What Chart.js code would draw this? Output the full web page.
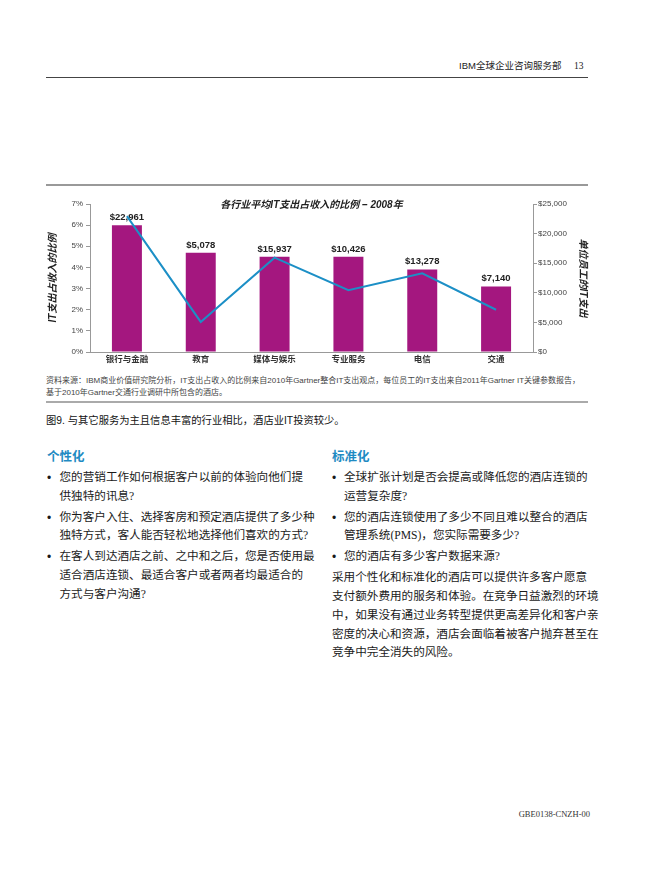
<!DOCTYPE html>
<html><head><meta charset="utf-8">
<script src="https://cdn.jsdelivr.net/npm/chart.js@4.4.0/dist/chart.umd.min.js"></script>
<style>
html,body{margin:0;padding:0;background:#fff;}
body{width:650px;height:882px;position:relative;overflow:hidden;font-family:"Liberation Sans","Noto Sans CJK SC",sans-serif;}
.abs{position:absolute;white-space:nowrap;}
.body{font-family:"Liberation Serif","Noto Sans CJK SC",serif;font-size:11.6px;color:#1a1a1a;line-height:18px;height:18px;}
.head{font-family:"Liberation Serif","Noto Sans CJK SC",serif;font-size:12.5px;font-weight:bold;color:#1f8bc3;line-height:18px;}
.bul{font-size:12px;color:#1a1a1a;line-height:18px;}
</style></head><body>
<div class="abs" style="left:459px;top:58px;font-size:9.5px;color:#222;line-height:16px;">IBM全球企业咨询服务部</div>
<div class="abs" style="left:574px;top:58px;font-size:9.5px;color:#222;line-height:16px;font-family:'Liberation Serif',serif;">13</div>
<div class="abs" style="left:46px;top:77px;width:542px;height:1px;background:#444;"></div>

<div class="abs" style="left:46px;top:184px;width:542px;height:2px;background:#999;"></div>
<div class="abs" style="left:0;top:190px;width:650px;height:185px;"><canvas id="c"></canvas></div>

<div class="abs" style="left:46px;top:375px;font-size:8px;color:#444;line-height:12px;">资料来源：IBM商业价值研究院分析，IT支出占收入的比例来自2010年Gartner整合IT支出观点，每位员工的IT支出来自2011年Gartner IT关键参数报告，<br>基于2010年Gartner交通行业调研中所包含的酒店。</div>
<div class="abs" style="left:46px;top:401px;width:542px;height:2px;background:#aaa;"></div>
<div class="abs" style="left:46px;top:413px;font-size:10.3px;color:#111;line-height:16px;">图9. 与其它服务为主且信息丰富的行业相比，酒店业IT投资较少。</div>

<div class="abs head" style="left:47px;top:448px;">个性化</div>
<div class="abs bul" style="left:47px;top:469px;">•</div>
<div class="abs body" style="left:59.5px;top:469px;">您的营销工作如何根据客户以前的体验向他们提</div>
<div class="abs body" style="left:59.5px;top:487.7px;">供独特的讯息?</div>
<div class="abs bul" style="left:47px;top:508.7px;">•</div>
<div class="abs body" style="left:59.5px;top:508.7px;">你为客户入住、选择客房和预定酒店提供了多少种</div>
<div class="abs body" style="left:59.5px;top:527.4px;">独特方式，客人能否轻松地选择他们喜欢的方式?</div>
<div class="abs bul" style="left:47px;top:548.4px;">•</div>
<div class="abs body" style="left:59.5px;top:548.4px;">在客人到达酒店之前、之中和之后，您是否使用最</div>
<div class="abs body" style="left:59.5px;top:567.1px;">适合酒店连锁、最适合客户或者两者均最适合的</div>
<div class="abs body" style="left:59.5px;top:585.8px;">方式与客户沟通?</div>

<div class="abs head" style="left:332px;top:448px;">标准化</div>
<div class="abs bul" style="left:332px;top:469px;">•</div>
<div class="abs body" style="left:344px;top:469px;">全球扩张计划是否会提高或降低您的酒店连锁的</div>
<div class="abs body" style="left:344px;top:487.7px;">运营复杂度?</div>
<div class="abs bul" style="left:332px;top:508.7px;">•</div>
<div class="abs body" style="left:344px;top:508.7px;">您的酒店连锁使用了多少不同且难以整合的酒店</div>
<div class="abs body" style="left:344px;top:527.4px;">管理系统(PMS)，您实际需要多少?</div>
<div class="abs bul" style="left:332px;top:548.4px;">•</div>
<div class="abs body" style="left:344px;top:548.4px;">您的酒店有多少客户数据来源?</div>
<div class="abs body" style="left:332px;top:569.4px;">采用个性化和标准化的酒店可以提供许多客户愿意</div>
<div class="abs body" style="left:332px;top:588.1px;">支付额外费用的服务和体验。在竞争日益激烈的环境</div>
<div class="abs body" style="left:332px;top:606.8px;">中，如果没有通过业务转型提供更高差异化和客户亲</div>
<div class="abs body" style="left:332px;top:625.5px;">密度的决心和资源，酒店会面临着被客户抛弃甚至在</div>
<div class="abs body" style="left:332px;top:644.2px;">竞争中完全消失的风险。</div>

<div class="abs" style="right:60px;top:808px;font-size:8.5px;color:#333;line-height:12px;font-family:'Liberation Serif',serif;">GBE0138-CNZH-00</div>

<script>
const categories = ['银行与金融','教育','媒体与娱乐','专业服务','电信','交通'];
const itShareOfRevenue = [6.0, 4.7, 4.5, 4.5, 3.9, 3.1];
const itSpendPerEmployee = [22961, 5078, 15937, 10426, 13278, 7140];
const leftTicks = [0,1,2,3,4,5,6,7];
const rightTicks = [0,5000,10000,15000,20000,25000];
const chartTitle = '各行业平均IT支出占收入的比例 – 2008年';

const fmt = v => '$' + v.toLocaleString('en-US');

const overlay = {
  id:'overlay',
  beforeDatasetsDraw(chart){
    const ctx = chart.ctx;
    const meta = chart.getDatasetMeta(1);
    ctx.save();
    ctx.font = 'bold 9.5px "Liberation Sans","Noto Sans CJK SC"';
    ctx.fillStyle = '#222';
    ctx.textAlign = 'center';
    ctx.textBaseline = 'bottom';
    meta.data.forEach((bar,i)=>{
      ctx.fillText(fmt(itSpendPerEmployee[i]), bar.x, bar.y - 3);
    });
    ctx.restore();
  },
  afterDraw(chart){
    const ctx = chart.ctx, a = chart.chartArea;
    ctx.save();
    ctx.font = 'italic bold 10px "Liberation Sans","Noto Sans CJK SC"';
    ctx.fillStyle = '#222';
    ctx.textAlign = 'center';
    ctx.textBaseline = 'middle';
    ctx.fillText(chartTitle, (a.left + a.right)/2, a.top + 1);
    ctx.restore();
  }
};

new Chart(document.getElementById('c'), {
  data:{
    labels: categories,
    datasets:[
      {type:'line', data: itSpendPerEmployee, yAxisID:'y1', borderColor:'#1c8fc6', borderWidth:2, pointRadius:0, tension:0, fill:false, order:0},
      {type:'bar', data: itShareOfRevenue, yAxisID:'y', backgroundColor:'#a4177f', barPercentage:0.406, categoryPercentage:1, order:1}
    ]
  },
  options:{
    responsive:true, maintainAspectRatio:false, animation:false,
    layout:{padding:{top:14,left:0,right:0,bottom:0}},
    plugins:{legend:{display:false}, tooltip:{enabled:false}},
    scales:{
      x:{
        grid:{display:false, drawTicks:false, tickLength:0},
        border:{color:'#999',width:1},
        ticks:{color:'#333',font:{family:'"Liberation Sans","Noto Sans CJK SC"',size:8.5,weight:'bold'},padding:3,maxRotation:0},
        afterFit(s){ s.height = 23; }
      },
      y:{
        position:'left', min:0, max:7,
        afterBuildTicks(s){ s.ticks = leftTicks.map(v=>({value:v})); },
        grid:{drawOnChartArea:false, tickLength:4, color:'#999'},
        border:{color:'#999',width:1},
        ticks:{color:'#444',font:{family:'"Liberation Sans"',size:8},padding:3,callback:v=>v+'%'},
        title:{display:true,text:'IT支出占收入的比例',color:'#222',font:{family:'"Liberation Sans","Noto Sans CJK SC"',size:10,style:'italic',weight:'bold'},padding:{top:47,bottom:0}},
        afterFit(s){ s.width = 90; }
      },
      y1:{
        position:'right', min:0, max:25000,
        afterBuildTicks(s){ s.ticks = rightTicks.map(v=>({value:v})); },
        grid:{drawOnChartArea:false, tickLength:4, color:'#999'},
        border:{color:'#999',width:1},
        ticks:{color:'#444',font:{family:'"Liberation Sans"',size:8},padding:1,callback:v=>fmt(v)},
        title:{display:true,text:'单位员工的IT支出',color:'#222',font:{family:'"Liberation Sans","Noto Sans CJK SC"',size:10,style:'italic',weight:'bold'},padding:{top:61,bottom:0}},
        afterFit(s){ s.width = 117; }
      }
    }
  },
  plugins:[overlay]
});
</script>
</body></html>
